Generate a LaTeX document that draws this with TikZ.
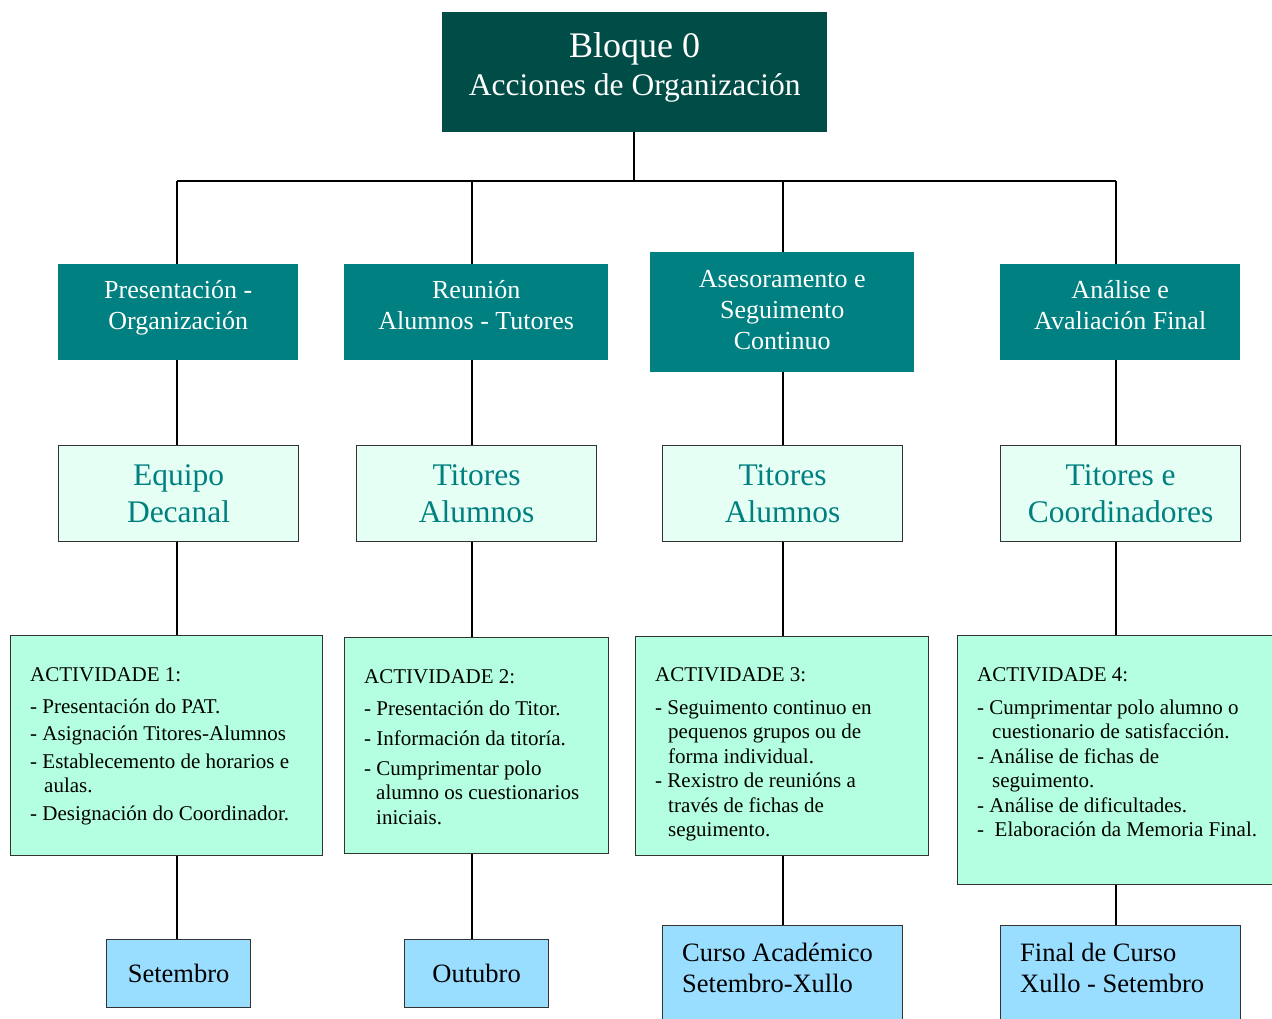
\documentclass[tikz,border=0pt]{standalone}
\usepackage{fontspec}
\setmainfont{Liberation Serif}
\definecolor{dk}{HTML}{004D47}
\definecolor{tl}{HTML}{008080}
\definecolor{lvtwo}{HTML}{E6FFF5}
\definecolor{lvthree}{HTML}{B3FFDF}
\definecolor{lvfour}{HTML}{99DDFF}
\definecolor{bd}{HTML}{333333}
\begin{document}
\begin{tikzpicture}[x=1pt,y=-1pt,
  box/.style={rectangle,inner sep=0pt,anchor=north west,align=center},
  topbox/.style={box,fill=dk,text=white},
  lvone/.style={box,fill=tl,text=white,font=\fontsize{26}{31}\selectfont},
  lvtwobox/.style={box,fill=lvtwo,draw=bd,line width=1.2pt,text=tl,font=\fontsize{31.5}{37}\selectfont},
  actbox/.style={box,fill=lvthree,draw=bd,line width=1.2pt},
  acttext/.style={anchor=north west,inner sep=0pt,align=left,font=\fontsize{21}{24.5}\selectfont},
  lvfourbox/.style={box,fill=lvfour,draw=bd,line width=1.2pt,font=\fontsize{26.5}{31}\selectfont},
  lvfourtext/.style={anchor=north west,inner sep=0pt,align=left,font=\fontsize{26.5}{31}\selectfont},
  conn/.style={line width=1.8pt,black}]
\useasboundingbox (0,0) rectangle (1272,1019);

% top
\node[topbox,minimum width=385pt,minimum height=120pt,font=\fontsize{31.5}{38}\selectfont] (top) at (442,12)
  {{\fontsize{36}{38}\selectfont Bloque 0}\\Acciones de Organización\\[-22pt]};

% level 1
\node[lvone,minimum width=240pt,minimum height=96pt] (l1a) at (58,264) {Presentación -\\Organización\\[-16pt]};
\node[lvone,minimum width=264pt,minimum height=96pt] (l1b) at (344,264) {Reunión\\Alumnos - Tutores\\[-16pt]};
\node[lvone,minimum width=264pt,minimum height=120pt] (l1c) at (650,252) {Asesoramento e\\Seguimento\\Continuo\\[-26pt]};
\node[lvone,minimum width=240pt,minimum height=96pt] (l1d) at (1000,264) {Análise e\\Avaliación Final\\[-16pt]};

% level 2
\node[lvtwobox,minimum width=240pt,minimum height=96pt] (l2a) at (58,445) {Equipo\\Decanal};
\node[lvtwobox,minimum width=240pt,minimum height=96pt] (l2b) at (356,445) {Titores\\Alumnos};
\node[lvtwobox,minimum width=240pt,minimum height=96pt] (l2c) at (662,445) {Titores\\Alumnos};
\node[lvtwobox,minimum width=240pt,minimum height=96pt] (l2d) at (1000,445) {Titores e\\Coordinadores};

% level 3
\node[actbox,minimum width=312pt,minimum height=220pt] (l3a) at (10,635) {};
\node[actbox,minimum width=264pt,minimum height=216pt] (l3b) at (344,637) {};
\node[actbox,minimum width=293pt,minimum height=219pt] (l3c) at (635,636) {};
\node[actbox,minimum width=330pt,minimum height=249pt] (l3d) at (957,635) {};

\node[acttext] (t3a) at (30,667) {ACTIVIDADE 1:\\[7.5pt]
- Presentación do PAT.\\[3pt]
- Asignación Titores-Alumnos\\[3pt]
- Establecemento de horarios e\\
\hspace*{14pt}aulas.\\[3pt]
- Designación do Coordinador.};

\node[acttext] (t3b) at (364,669) {ACTIVIDADE 2:\\[7.5pt]
- Presentación do Titor.\\[5.5pt]
- Información da titoría.\\[5.5pt]
- Cumprimentar polo\\
\hspace*{12pt}alumno os cuestionarios\\
\hspace*{12pt}iniciais.};

\node[acttext] (t3c) at (655,667) {ACTIVIDADE 3:\\[8.5pt]
- Seguimento continuo en\\
\hspace*{13pt}pequenos grupos ou de\\
\hspace*{13pt}forma individual.\\
- Rexistro de reunións a\\
\hspace*{13pt}través de fichas de\\
\hspace*{13pt}seguimento.};

\node[acttext] (t3d) at (977,667) {ACTIVIDADE 4:\\[8.5pt]
- Cumprimentar polo alumno o\\
\hspace*{15pt}cuestionario de satisfacción.\\
- Análise de fichas de\\
\hspace*{15pt}seguimento.\\
- Análise de dificultades.\\
-\ \ Elaboración da Memoria Final.};

% level 4
\node[lvfourbox,minimum width=144pt,minimum height=68pt] (l4a) at (106,939) {Setembro};
\node[lvfourbox,minimum width=144pt,minimum height=68pt] (l4b) at (404,939) {Outubro};
\node[lvfourbox,minimum width=240pt,minimum height=110pt] (l4c) at (662,925) {};
\node[lvfourbox,minimum width=240pt,minimum height=110pt] (l4d) at (1000,925) {};
\node[lvfourtext] (t4c) at (682,943) {Curso Académico\\Setembro-Xullo};
\node[lvfourtext] (t4d) at (1020,943) {Final de Curso\\Xullo - Setembro};

% connectors
\coordinate (cA) at (177,181);
\coordinate (cB) at (472,181);
\coordinate (cC) at (783,181);
\coordinate (cD) at (1116,181);
\coordinate (cT) at (634,181);

\draw[conn] (top.south -| cT) -- (cT);
\draw[conn] (cA) -- (cD);
\foreach \c/\n in {cA/a,cB/b,cC/c,cD/d}{
  \draw[conn] (\c) -- (\c |- l1\n.north);
  \draw[conn] (\c |- l1\n.south) -- (\c |- l2\n.north);
  \draw[conn] (\c |- l2\n.south) -- (\c |- l3\n.north);
  \draw[conn] (\c |- l3\n.south) -- (\c |- l4\n.north);
}
\end{tikzpicture}
\end{document}
